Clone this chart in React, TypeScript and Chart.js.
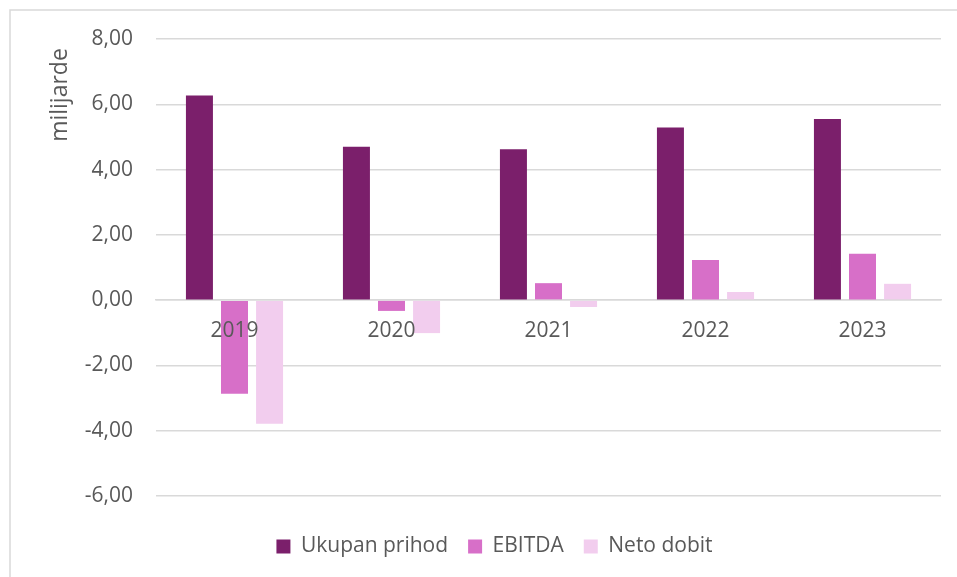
import React, { useEffect, useRef } from "react";
import { Chart, registerables } from "chart.js";

Chart.register(...registerables);

const categories = ["2019", "2020", "2021", "2022", "2023"];
const ukupanPrihod = [6.27, 4.7, 4.62, 5.29, 5.55];
const ebitda = [-2.87, -0.33, 0.52, 1.23, 1.42];
const netoDobit = [-3.79, -1.01, -0.21, 0.25, 0.5];
const yTicks = [-6, -4, -2, 0, 2, 4, 6, 8];
const yTitle = "milijarde";
const seriesNames = ["Ukupan prihod", "EBITDA", "Neto dobit"];

const FONT = "'Open Sans', sans-serif";
const TEXT = "#595959";
const GRID = "#d9d9d9";

const decor = {
  id: "decor",
  afterDraw(chart: any) {
    const ctx = chart.ctx;
    ctx.save();
    ctx.strokeStyle = GRID;
    ctx.lineWidth = 1.5;
    ctx.beginPath();
    ctx.moveTo(10, chart.height);
    ctx.lineTo(10, 10);
    ctx.lineTo(chart.width, 10);
    ctx.stroke();
    ctx.translate(60, 95);
    ctx.rotate(-Math.PI / 2);
    ctx.fillStyle = TEXT;
    ctx.font = `23px ${FONT}`;
    ctx.textAlign = "center";
    ctx.textBaseline = "middle";
    ctx.fillText(yTitle, 0, 0);
    ctx.restore();
  },
};

export default function App() {
  const ref = useRef<HTMLCanvasElement | null>(null);
  useEffect(() => {
    if (!ref.current) return;
    const chart = new Chart(ref.current, {
      type: "bar",
      data: {
        labels: categories,
        datasets: [
          { label: seriesNames[0], data: ukupanPrihod, backgroundColor: "#7B1F6B" },
          { label: seriesNames[1], data: ebitda, backgroundColor: "#D76FC8" },
          { label: seriesNames[2], data: netoDobit, backgroundColor: "#F2CDEE" },
        ],
      },
      options: {
        responsive: false,
        animation: false,
        layout: { padding: { top: 39, right: 16, bottom: 10, left: 48 } },
        datasets: {
          bar: { barPercentage: 0.77, categoryPercentage: 0.67 },
        },
        scales: {
          x: {
            position: { y: 0 } as any,
            grid: { display: false, drawTicks: false },
            border: { display: true, color: GRID, width: 1.5 },
            ticks: { z: 1, color: TEXT, font: { family: FONT, size: 21 }, padding: 18 },
          },
          y: {
            min: -6,
            max: 8,
            afterFit: (s: any) => {
              s.width = 108;
            },
            afterBuildTicks: (s: any) => {
              s.ticks = yTicks.map((v) => ({ value: v }));
            },
            grid: { color: GRID, lineWidth: 1.5, drawTicks: false },
            border: { display: false },
            ticks: {
              color: TEXT,
              font: { family: FONT, size: 21 },
              padding: 23,
              callback: (v: any) => Number(v).toFixed(2).replace(".", ","),
            },
          },
        },
        plugins: {
          legend: {
            position: "bottom",
            title: { display: true, text: "", font: { size: 10, lineHeight: 1 }, padding: { top: 10, bottom: 0 } },
            labels: {
              color: TEXT,
              font: { family: FONT, size: 21 },
              boxWidth: 14,
              boxHeight: 14,
              padding: 20,
            },
          },
          tooltip: { enabled: false },
        },
      },
      plugins: [decor],
    });
    return () => chart.destroy();
  }, []);
  return (
    <div style={{ position: "fixed", left: 0, top: 0, width: 957, height: 577, background: "#fff" }}>
      <canvas ref={ref} width={957} height={577} style={{ display: "block" }} />
    </div>
  );
}
